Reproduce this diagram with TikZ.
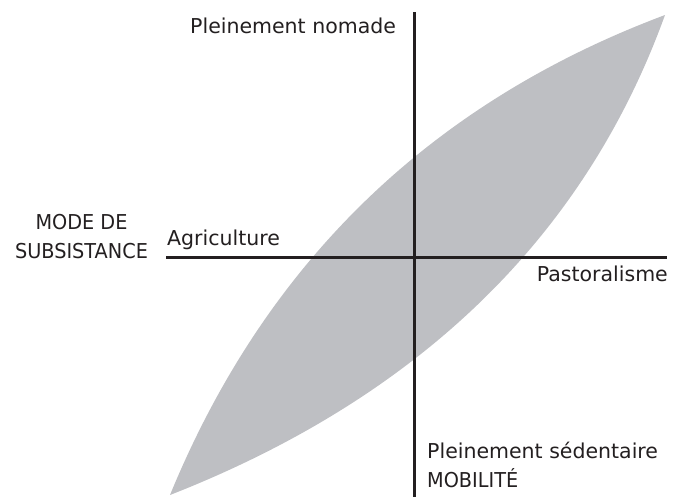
\documentclass[tikz,border=0pt]{standalone}
\usepackage{fontspec}
\setmainfont{DejaVu Sans}
\newfontfamily\capsfont[FakeStretch=0.94]{DejaVu Sans}
\definecolor{axiscol}{HTML}{231F20}
\definecolor{lenscol}{HTML}{BEBFC3}
\begin{document}
\begin{tikzpicture}[x=1pt,y=-1pt,
  lbl/.style={inner sep=0pt, font=\fontsize{20.5}{30}\selectfont, text=axiscol},
  capslbl/.style={lbl, font=\fontsize{20.5}{30}\selectfont\capsfont},
  axisline/.style={draw=axiscol, line width=3pt}]
\useasboundingbox (0,0) rectangle (675,496);
% lens
\coordinate (la) at (170,495);
\coordinate (lb) at (665,15);
\fill[lenscol] (la) .. controls (265.3,263) and (430.3,103) .. (lb)
  .. controls (585,236) and (420,397) .. (la) -- cycle;
% axes
\coordinate (vtop) at (414,12);
\coordinate (vbot) at (414,497);
\coordinate (hl) at (166,257);
\coordinate (hr) at (667,257);
\draw[axisline] (vtop) -- (vbot);
\draw[axisline] (hl) -- (hr);
% labels
\node[lbl, anchor=base west] (nomade) at (190,33) {Pleinement nomade};
\node[capslbl, anchor=base] (mode) at (81.5,229) {MODE DE};
\node[capslbl, anchor=base] (subs) at (81.5,258) {SUBSISTANCE};
\node[lbl, anchor=base west] (agri) at (167,245) {Agriculture};
\node[lbl, anchor=base east] (past) at (668,281) {Pastoralisme};
\node[lbl, anchor=base west] (sed) at (427,458) {Pleinement sédentaire};
\node[capslbl, anchor=base west] (mob) at (427,487) {MOBILITÉ};
\end{tikzpicture}
\end{document}
